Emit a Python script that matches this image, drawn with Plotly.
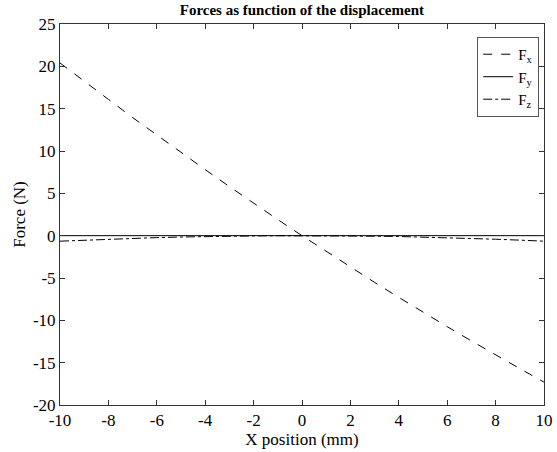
import plotly.graph_objects as go

x_mm = [-10, -9, -8, -7, -6, -5, -4, -3, -2, -1, 0, 1, 2, 3, 4, 5, 6, 7, 8, 9, 10]
fx = [20.4, 18.2, 16.1, 13.95, 11.87, 9.8, 7.8, 5.8, 3.83, 1.9, 0.0,
      -1.87, -3.71, -5.52, -7.29, -9.04, -10.75, -12.43, -14.09, -15.7, -17.3]
fy = [0.0] * 21
fz = [-0.65, -0.53, -0.42, -0.32, -0.23, -0.16, -0.1, -0.06, -0.03, -0.01, 0.0,
      -0.01, -0.03, -0.06, -0.1, -0.16, -0.23, -0.32, -0.42, -0.53, -0.65]

x_ticks = [-10, -8, -6, -4, -2, 0, 2, 4, 6, 8, 10]
y_ticks = [-20, -15, -10, -5, 0, 5, 10, 15, 20, 25]

font = "Liberation Serif"

fig = go.Figure()
fig.add_trace(go.Scatter(x=x_mm, y=fx, mode="lines", name="F<sub>x</sub>",
                         line=dict(color="black", width=1, dash="dash")))
fig.add_trace(go.Scatter(x=x_mm, y=fy, mode="lines", name="F<sub>y</sub>",
                         line=dict(color="black", width=1, dash="solid")))
fig.add_trace(go.Scatter(x=x_mm, y=fz, mode="lines", name="F<sub>z</sub>",
                         line=dict(color="black", width=1, dash="dashdot")))

axis_common = dict(showgrid=False, zeroline=False, showline=True, linecolor="#333",
                   linewidth=1, mirror="ticks", ticks="inside", ticklen=5,
                   tickcolor="#333", automargin=False,
                   tickfont=dict(family=font, size=17, color="black"))

fig.update_layout(
    width=557, height=452,
    margin=dict(l=60, r=13, t=24, b=47),
    paper_bgcolor="white", plot_bgcolor="white",
    font=dict(family=font, size=17, color="black"),
    title=dict(text="<b>Forces as function of the displacement</b>", x=0.542, xanchor="center",
               y=0.978, yanchor="middle", font=dict(family=font, size=15, color="black")),
    xaxis=dict(range=[-10, 10], tickvals=x_ticks, ticktext=[str(v) for v in x_ticks],
               title=dict(text="X position (mm)", standoff=0, font=dict(family=font, size=17)),
               **axis_common),
    yaxis=dict(range=[-20, 25], tickvals=y_ticks, ticktext=[str(v) for v in y_ticks],
               title=dict(text="Force (N)", standoff=2, font=dict(family=font, size=17)),
               **axis_common),
    legend=dict(x=0.862, y=0.966, xanchor="left", yanchor="top",
                bordercolor="#555", borderwidth=1, bgcolor="white",
                font=dict(family=font, size=15, color="black"),
                tracegroupgap=0, itemwidth=30),
    showlegend=True,
)

fig.write_html("out.html")
